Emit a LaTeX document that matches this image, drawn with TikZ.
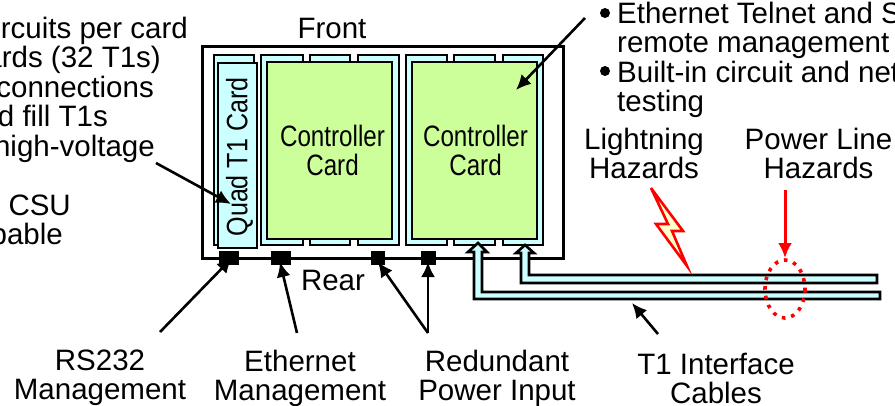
\documentclass[tikz,border=0pt]{standalone}
\usepackage{fontspec}
\setmainfont{Liberation Sans}
\usetikzlibrary{positioning, arrows.meta}
\definecolor{cardcyan}{HTML}{CCFFFF}
\definecolor{cardgreen}{HTML}{CCFF99}
\definecolor{boltfill}{HTML}{FFFFCC}
\tikzset{
  label text/.style={font=\fontsize{29.5}{29}\selectfont, align=center, inner sep=0pt},
  card label/.style={font=\fontsize{29.5}{29}\selectfont, align=center, inner sep=0pt, xscale=0.82},
  back card/.style={draw, fill=cardcyan, line width=2pt},
  main card/.style={draw, fill=cardgreen, line width=2.5pt},
  port/.style={fill=black},
  call out/.style={-{Latex[length=15pt,width=14pt]}, line width=2.6pt},
  cable/.style={draw, fill=cardcyan, line width=2.6pt, line join=miter},
}
\begin{document}
\begin{tikzpicture}[x=1pt, y=-1pt]
  \useasboundingbox (0,0) rectangle (895,405);
  \clip (0,0) rectangle (895,405);
  % Chassis
  \draw[line width=3pt] (202,46) rectangle (563,258);
  % Cards
  \draw[back card] (213.5,54.5) rectangle (254,245);
  \draw[back card] (218,63) rectangle (257,248);
  \foreach \xa/\xb in {261/303, 310/350, 358/399, 406/447, 454/495, 503/543}
    \draw[back card] (\xa,54.5) rectangle (\xb,245);
  \node[main card, minimum width=125pt, minimum height=177pt] (leftcard) at (329.5,150.5) {};
  \node[main card, minimum width=125pt, minimum height=177pt] (rightcard) at (474.5,150.5) {};
  \node[label text, rotate=90, xscale=0.85] (quad) at (239.5,157) {Quad T1 Card};
  \node[card label] at ([xshift=3pt]leftcard.center) {Controller\\Card};
  \node[card label] at ([xshift=1pt]rightcard.center) {Controller\\Card};
  % Ports
  \foreach \xa/\xb in {219/239, 271/291, 371/385, 421/436}
    \fill[port] (\xa,251) rectangle (\xb,265);
  % Cables
  \path[cable] (525,245) -- (534,253) -- (529,253) -- (529,275) -- (877,275) -- (877,283) -- (521,283) -- (521,253) -- (516,253) -- cycle;
  \path[cable] (478,243) -- (487,252) -- (482,252) -- (482,292) -- (880,292) -- (880,299) -- (474,299) -- (474,252) -- (468,252) -- cycle;
  % Hazards
  \draw[red, line width=3.6pt, dash pattern=on 3.6pt off 6pt] (785,289) ellipse [x radius=20, y radius=29];
  \draw[red, line width=2.6pt, fill=boltfill, line join=miter] (651,188) -- (683,231) -- (672,231) -- (687,266) -- (656,224) -- (668,224) -- cycle;
  \coordinate (hazardtop) at (785,190);
  \coordinate (hazardend) at (785,258);
  \draw[call out, red, line width=3pt] (hazardtop) -- (hazardend);
  % Labels
  \node[label text] (front) at (332,28) {Front};
  \node[label text] (rear) at (333,280) {Rear};
  \node[label text] (lightning) at (644,153) {Lightning\\Hazards};
  \node[label text] (powerline) at (818.5,153) {Power Line\\Hazards};
  \node[label text] (rs232) at (100,378) {RS232\\Management};
  \node[label text] (ethernet) at (300,378) {Ethernet\\Management};
  \node[label text] (power) at (497,378) {Redundant\\Power Input};
  \node[label text] (t1) at (716,378) {T1 Interface\\Cables};
  % Cut at the left edge
  \node[label text, anchor=base east] (circuits) at (188,38) {rcuits per card};
  \node[label text, anchor=base east] (cards) at (161,67) {ards (32 T1s)};
  \node[label text, anchor=base east] (conn) at (154,97) {connections};
  \node[label text, anchor=base east] (fill) at (108,126) {d fill T1s};
  \node[label text, anchor=base east] (high) at (155,156) {high-voltage};
  \node[label text, anchor=base east] (csu) at (71,215) {CSU};
  \node[label text, anchor=base east] (capable) at (63,244) {pable};
  % Cut at the right edge
  \node[label text, anchor=base west] (mgmt) at (617,23) {Ethernet Telnet and S};
  \node[label text, anchor=base west] (remote) at (617,52) {remote management};
  \node[label text, anchor=base west] (builtin) at (617,82) {Built-in circuit and net};
  \node[label text, anchor=base west] (testing) at (617,111) {testing};
  \node[circle, fill=black, inner sep=0pt, minimum size=10pt] (bulleta) at (605,13) {};
  \node[circle, fill=black, inner sep=0pt, minimum size=10pt] (bulletb) at (605,71) {};
  % Call outs
  \coordinate (quadstart) at (156,163);
  \coordinate (quadtip) at (231,204);
  \coordinate (ctrlstart) at (585,18);
  \coordinate (ctrltip) at (516,90);
  \draw[call out] (quadstart) -- (quadtip);
  \draw[call out] (ctrlstart) -- (ctrltip);
  \coordinate (rsstart) at (160,332);
  \coordinate (ethstart) at (297,333);
  \coordinate (pwrstart) at (428,333);
  \coordinate (t1start) at (658,334);
  \draw[call out] (rsstart) -- (232,258);
  \draw[call out] (ethstart) -- (280,262);
  \draw[call out] (pwrstart) -- (378,262);
  \draw[call out] (pwrstart) -- (428,262);
  \draw[call out] (t1start) -- (632,303);
\end{tikzpicture}
\end{document}
